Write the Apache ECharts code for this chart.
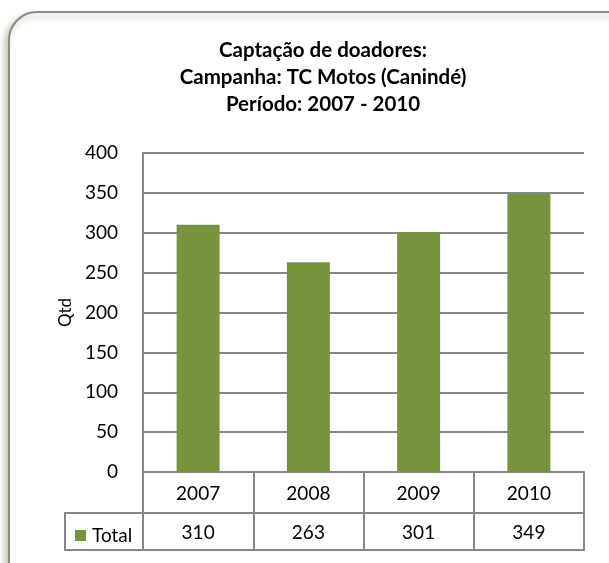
<!DOCTYPE html>
<html>
<head>
<meta charset="utf-8">
<script src="https://cdn.jsdelivr.net/npm/echarts@6/dist/echarts.min.js"></script>
<style>
  html, body { margin: 0; padding: 0; background: #fff; }
  #chart { width: 609px; height: 563px; }
</style>
</head>
<body>
<div id="chart"></div>
<script>
const titleLines = ['Captação de doadores:', 'Campanha: TC Motos (Canindé)', 'Período: 2007 - 2010'];
const years = ['2007', '2008', '2009', '2010'];
const totals = [310, 263, 301, 349];
const seriesName = 'Total';
const yAxisName = 'Qtd';

const FONT = 'Lato, "Noto Sans", sans-serif';
const GRAY = '#878787';
const GREEN = '#77933C';

const chart = echarts.init(document.getElementById('chart'));

// table row lines drawn by extra (hidden) category axes under the grid
function tableLine(offset) {
    return {
        type: 'category',
        data: years,
        position: 'bottom',
        offset: offset,
        axisLine: { show: true, lineStyle: { color: GRAY, width: 2 } },
        axisTick: { show: false },
        axisLabel: { show: false }
    };
}

chart.setOption({
    animation: false,
    title: {
        text: titleLines.join('\n'),
        left: 318,
        textAlign: 'center',
        top: 32,
        textStyle: {
            fontFamily: FONT,
            fontWeight: 'bold',
            fontSize: 20.5,
            lineHeight: 27,
            color: '#000'
        }
    },
    legend: {
        data: [seriesName],
        left: 70,
        top: 521,
        icon: 'rect',
        itemWidth: 11,
        itemHeight: 11,
        itemGap: 4,
        textStyle: { fontFamily: FONT, fontSize: 19, color: '#000', padding: [0, 0, 0, 1] }
    },
    grid: { left: 143, right: 25, top: 153, bottom: 91 },
    xAxis: [
        {
            type: 'category',
            data: years,
            axisLine: { show: true, lineStyle: { color: GRAY, width: 2 } },
            axisTick: {
                show: true,
                interval: 0,
                length: 78,
                lineStyle: { color: GRAY, width: 2 }
            },
            axisLabel: {
                interval: 0,
                margin: 2,
                formatter: function (v, i) {
                    return '{a|' + v + '}\n{a|' + totals[i] + '}';
                },
                rich: {
                    a: { fontFamily: FONT, fontSize: 19, color: '#000', lineHeight: 39 }
                }
            }
        },
        tableLine(41),
        tableLine(78)
    ],
    yAxis: {
        type: 'value',
        min: 0,
        max: 400,
        interval: 50,
        name: yAxisName,
        nameLocation: 'middle',
        nameGap: 68,
        nameTextStyle: { fontFamily: FONT, fontSize: 17, color: '#000' },
        axisLine: { show: true, lineStyle: { color: GRAY, width: 2 } },
        axisTick: { show: false },
        axisLabel: { margin: 25, fontFamily: FONT, fontSize: 19, color: '#000' },
        splitLine: { lineStyle: { color: GRAY, width: 2 } }
    },
    series: [{
        name: seriesName,
        type: 'bar',
        data: totals,
        barWidth: '39%',
        itemStyle: { color: GREEN }
    }],
    graphic: [
        {
            type: 'rect',
            z: -10,
            shape: { x: 9, y: 12, width: 640, height: 600, r: 28 },
            style: {
                fill: '#fff',
                stroke: '#8a8a8a',
                lineWidth: 2,
                shadowColor: 'rgba(110,130,60,0.45)',
                shadowBlur: 6,
                shadowOffsetX: -3,
                shadowOffsetY: 4
            }
        },
        {
            // legend cell of the data table
            type: 'rect',
            shape: { x: 65, y: 513, width: 78, height: 37 },
            style: { fill: 'none', stroke: GRAY, lineWidth: 2 }
        }
    ]
});
</script>
</body>
</html>
